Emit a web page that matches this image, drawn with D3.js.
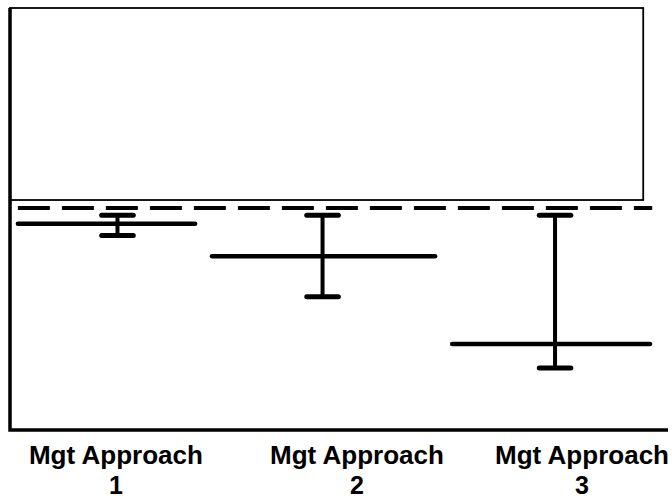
<!DOCTYPE html>
<html lang="en">
<head>
    <meta charset="UTF-8">
    <title>Mgt Approach</title>
    <script src="https://cdnjs.cloudflare.com/ajax/libs/d3/7.4.4/d3.min.js"></script>
    <style>
        body {
            margin: 0;
            background: #fff;
        }
        #chart svg {
            display: block;
        }
        .label {
            font-family: "Liberation Sans", Arial, sans-serif;
            font-weight: bold;
            font-size: 25px;
            fill: #000;
        }
    </style>
</head>
<body>
    <div id="chart"></div>

    <script>
        // Groups and values (x in group units, y in arbitrary units)
        const groups = ["Mgt Approach 1", "Mgt Approach 2", "Mgt Approach 3"];
        const labelLine1 = ["Mgt Approach", "Mgt Approach", "Mgt Approach"];
        const labelLine2 = ["1", "2", "3"];
        const labelX = [0.483, 1.582, 2.608];

        const means = [48.9, 41.2, 20.4];
        const upper = [50.9, 50.9, 50.9];
        const lower = [46.1, 31.6, 14.7];

        const meanStart = [0.036, 0.921, 2.016];
        const meanEnd = [0.844, 1.938, 2.918];
        const barX = [0.49, 1.425, 2.485];

        const reference = 52.6;     // dashed line
        const refSpan = [0.036, 2.928];
        const boxSpan = [0, 2.887];
        const boxRange = [54.5, 100];

        const width = 672, height = 499;

        const x = d3.scaleLinear().domain([0, 3]).range([10, 668]);
        const y = d3.scaleLinear().domain([0, 100]).range([430, 8]);
        const capHalf = 0.072;

        const svg = d3.select("#chart")
            .append("svg")
            .attr("width", width)
            .attr("height", height);

        // upper box
        svg.append("rect")
            .attr("x", x(boxSpan[0]))
            .attr("y", y(boxRange[1]))
            .attr("width", x(boxSpan[1]) - x(boxSpan[0]))
            .attr("height", y(boxRange[0]) - y(boxRange[1]))
            .attr("fill", "none")
            .attr("stroke", "#000")
            .attr("stroke-width", 1.8);

        // axes (left + bottom)
        svg.append("path")
            .attr("d", `M${x(0)},${y(100)} V${y(0)} H${x(3)}`)
            .attr("fill", "none")
            .attr("stroke", "#000")
            .attr("stroke-width", 3.5);

        // dashed reference line
        svg.append("line")
            .attr("x1", x(refSpan[0]))
            .attr("x2", x(refSpan[1]))
            .attr("y1", y(reference))
            .attr("y2", y(reference))
            .attr("stroke", "#000")
            .attr("stroke-width", 4)
            .attr("stroke-dasharray", "32,12");

        const idx = d3.range(groups.length);

        // mean lines
        svg.selectAll(".mean")
            .data(idx)
            .enter()
            .append("line")
            .attr("class", "mean")
            .attr("x1", i => x(meanStart[i]))
            .attr("x2", i => x(meanEnd[i]))
            .attr("y1", i => y(means[i]))
            .attr("y2", i => y(means[i]))
            .attr("stroke", "#000")
            .attr("stroke-width", 4.5)
            .attr("stroke-linecap", "round");

        // error bars
        svg.selectAll(".whisker")
            .data(idx)
            .enter()
            .append("line")
            .attr("class", "whisker")
            .attr("x1", i => x(barX[i]))
            .attr("x2", i => x(barX[i]))
            .attr("y1", i => y(upper[i]))
            .attr("y2", i => y(lower[i]))
            .attr("stroke", "#000")
            .attr("stroke-width", 4);

        const caps = idx.flatMap(i => [{ i, v: upper[i] }, { i, v: lower[i] }]);
        svg.selectAll(".cap")
            .data(caps)
            .enter()
            .append("line")
            .attr("class", "cap")
            .attr("x1", d => x(barX[d.i] - capHalf))
            .attr("x2", d => x(barX[d.i] + capHalf))
            .attr("y1", d => y(d.v))
            .attr("y2", d => y(d.v))
            .attr("stroke", "#000")
            .attr("stroke-width", 5)
            .attr("stroke-linecap", "round");

        // category labels, two lines each
        svg.selectAll(".label1")
            .data(idx)
            .enter()
            .append("text")
            .attr("class", "label label1")
            .attr("text-anchor", "middle")
            .attr("x", i => x(labelX[i]))
            .attr("y", 464)
            .attr("textLength", 174)
            .attr("lengthAdjust", "spacingAndGlyphs")
            .text(i => labelLine1[i]);

        svg.selectAll(".label2")
            .data(idx)
            .enter()
            .append("text")
            .attr("class", "label label2")
            .attr("text-anchor", "middle")
            .attr("x", i => x(labelX[i]))
            .attr("y", 494)
            .text(i => labelLine2[i]);
    </script>
</body>
</html>
